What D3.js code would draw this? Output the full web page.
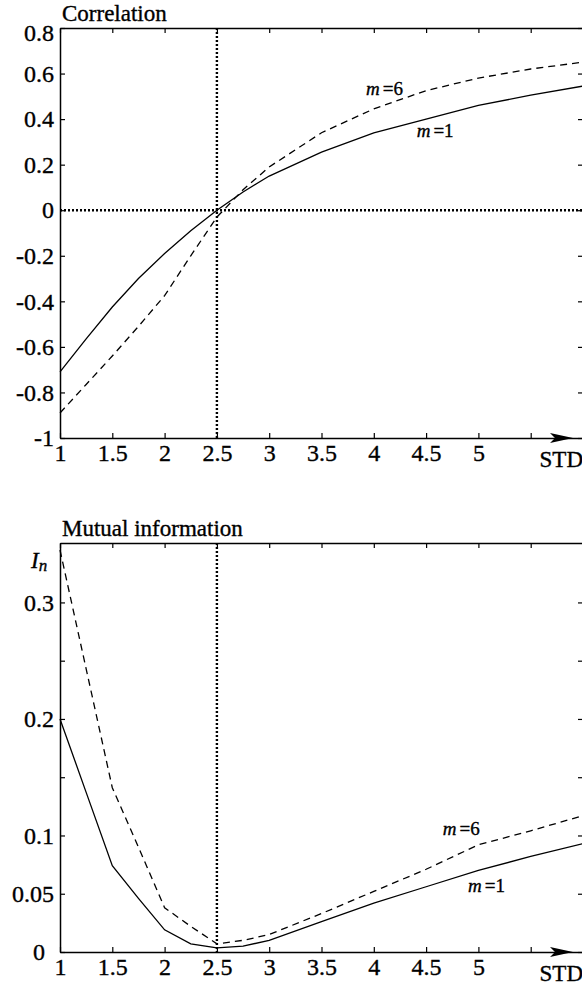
<!DOCTYPE html>
<html>
<head>
<meta charset="utf-8">
<script src="https://cdn.jsdelivr.net/npm/d3@7"></script>
<style>
  html, body { margin: 0; padding: 0; background: #fff; }
  svg { display: block; font-family: "Liberation Serif", "Times New Roman", serif; }
  svg text { stroke: #000; stroke-width: 0.35px; }
</style>
</head>
<body>
<svg id="chart" width="582" height="985"></svg>
<script>
// shared STD values for every curve
let stdValues = [1, 1.25, 1.5, 1.75, 2, 2.25, 2.5, 2.75, 3, 3.5, 4, 4.5, 5, 5.5, 6];

// Correlation
let corrM1 = [-0.71, -0.565, -0.425, -0.30, -0.19, -0.09, 0.0, 0.08, 0.15, 0.255, 0.34, 0.40, 0.46, 0.505, 0.545];
let corrM6 = [-0.89, -0.765, -0.64, -0.51, -0.375, -0.20, -0.03, 0.09, 0.19, 0.34, 0.445, 0.525, 0.58, 0.62, 0.65];

// Mutual information
let miM1 = [0.20, 0.137, 0.074, 0.046, 0.019, 0.007, 0.0035, 0.005, 0.010, 0.026, 0.042, 0.056, 0.070, 0.082, 0.093];
let miM6 = [0.345, 0.243, 0.141, 0.090, 0.038, 0.022, 0.007, 0.010, 0.015, 0.033, 0.052, 0.071, 0.092, 0.104, 0.117];

// ticks
let xTicks = [1, 1.5, 2, 2.5, 3, 3.5, 4, 4.5, 5, 5.5];
let xTickLabels = ["1", "1.5", "2", "2.5", "3", "3.5", "4", "4.5", "5", ""];
let corrTicks = [-1, -0.8, -0.6, -0.4, -0.2, 0, 0.2, 0.4, 0.6, 0.8];
let corrTickLabels = ["-1", "-0.8", "-0.6", "-0.4", "-0.2", "0", "0.2", "0.4", "0.6", "0.8"];
let miTicks = [0, 0.05, 0.1, 0.15, 0.2, 0.25, 0.3];
let miTickLabels = ["0", "0.05", "0.1", "", "0.2", "", "0.3"];

let svg = d3.select("#chart");
let tickFont = 24;
let titleFont = 23;

let xScale = d3.scaleLinear().domain([1, 6]).range([60, 583]);

/**
*   cfg: panel settings (scales, data, labels)
*   draws one boxed panel with inward ticks, curves and the STD arrow
*/
function drawPanel(cfg) {
    let g = svg.append("g");
    let yScale = cfg.yScale;
    let x0 = xScale.range()[0], x1 = xScale.range()[1];
    let yTop = yScale.range()[1], yBot = yScale.range()[0];

    // title
    g.append("text")
        .attr("x", 62)
        .attr("y", yTop - 7)
        .style("font-size", titleFont + "px")
        .text(cfg.title);

    // dotted reference lines
    g.append("line")
        .attr("x1", xScale(2.5)).attr("x2", xScale(2.5))
        .attr("y1", yTop).attr("y2", yBot)
        .attr("stroke", "#000").attr("stroke-width", 2.4)
        .attr("stroke-dasharray", "2,2");
    if (cfg.zeroLine) {
        g.append("line")
            .attr("x1", x0).attr("x2", x1)
            .attr("y1", yScale(0)).attr("y2", yScale(0))
            .attr("stroke", "#000").attr("stroke-width", 2.4)
            .attr("stroke-dasharray", "2,2");
    }

    // curves
    let line = d3.line()
        .x(function(d, i) { return xScale(stdValues[i]); })
        .y(function(d) { return yScale(d); });
    g.append("path")
        .attr("d", line(cfg.m1))
        .attr("fill", "none").attr("stroke", "#000").attr("stroke-width", 1.3);
    g.append("path")
        .attr("d", line(cfg.m6))
        .attr("fill", "none").attr("stroke", "#000").attr("stroke-width", 1.3)
        .attr("stroke-dasharray", "7,5");

    // axes, all ticks pointing inward
    let bottomAxis = g.append("g")
        .attr("transform", "translate(0," + yBot + ")")
        .call(d3.axisBottom(xScale).tickValues(xTicks)
            .tickFormat(function(d, i) { return xTickLabels[i]; })
            .tickSizeInner(-5).tickSizeOuter(0).tickPadding(6));
    g.append("g")
        .attr("transform", "translate(0," + yTop + ")")
        .call(d3.axisTop(xScale).tickValues(xTicks).tickFormat("")
            .tickSizeInner(-5).tickSizeOuter(0));
    let leftAxis = g.append("g")
        .attr("transform", "translate(" + x0 + ",0)")
        .call(d3.axisLeft(yScale).tickValues(cfg.yTicks)
            .tickFormat(function(d, i) { return cfg.yTickLabels[i]; })
            .tickSizeInner(-5).tickSizeOuter(0).tickPadding(6));
    g.append("g")
        .attr("transform", "translate(" + x1 + ",0)")
        .call(d3.axisRight(yScale).tickValues(cfg.yTicks).tickFormat("")
            .tickSizeInner(-5).tickSizeOuter(0));

    g.selectAll(".domain").attr("stroke", "#000").attr("stroke-width", 1.5);
    g.selectAll(".tick line").attr("stroke", "#000").attr("stroke-width", 1.2);
    g.selectAll(".tick text")
        .attr("fill", "#000")
        .style("font-family", "'Liberation Serif', 'Times New Roman', serif")
        .style("font-size", tickFont + "px");

    if (cfg.tweakLabels) cfg.tweakLabels(leftAxis, bottomAxis);

    // arrow on the STD axis
    let ax = x1 - 10, ay = yBot;
    g.append("path")
        .attr("d", "M" + ax + "," + ay + "L" + (ax - 23) + "," + (ay - 5) +
            "L" + (ax - 18) + "," + ay + "L" + (ax - 23) + "," + (ay + 5) + "Z")
        .attr("fill", "#000");
    g.append("text")
        .attr("x", 583)
        .attr("y", yBot + 29)
        .attr("text-anchor", "end")
        .style("font-size", titleFont + "px")
        .text("STD");

    // curve labels
    cfg.curveLabels.forEach(function(lab) {
        let t = g.append("text")
            .attr("x", xScale(lab.x))
            .attr("y", yScale(lab.y))
            .style("font-size", "19px");
        t.append("tspan").style("font-style", "italic").text("m");
        t.append("tspan").attr("dx", 3).text("=" + lab.m);
    });

    return g;
}

// top panel: correlation
drawPanel({
    title: "Correlation",
    yScale: d3.scaleLinear().domain([-1, 0.8]).range([438, 28]),
    yTicks: corrTicks,
    yTickLabels: corrTickLabels,
    m1: corrM1,
    m6: corrM6,
    zeroLine: true,
    curveLabels: [
        { m: 6, x: 3.925, y: 0.505 },
        { m: 1, x: 4.41, y: 0.32 }
    ],
    tweakLabels: function(left) {
        left.selectAll(".tick text")
            .filter(function(d) { return d === 0.8; })
            .attr("dy", "0.5em");
    }
});

// bottom panel: mutual information
let miPanel = drawPanel({
    title: "Mutual information",
    yScale: d3.scaleLinear().domain([0, 0.351]).range([952, 543]),
    yTicks: miTicks,
    yTickLabels: miTickLabels,
    m1: miM1,
    m6: miM6,
    zeroLine: false,
    curveLabels: [
        { m: 6, x: 4.66, y: 0.1 },
        { m: 1, x: 4.9, y: 0.0515 }
    ],
    tweakLabels: function(left) {
        left.selectAll(".tick text")
            .filter(function(d) { return d === 0; })
            .attr("x", -15);
    }
});

// I_n symbol on the MI axis
let inLabel = miPanel.append("text")
    .attr("x", 31)
    .attr("y", 568)
    .style("font-size", "23px")
    .style("font-style", "italic");
inLabel.append("tspan").text("I");
inLabel.append("tspan").attr("dy", 3).style("font-size", "17px").text("n");
</script>
</body>
</html>
